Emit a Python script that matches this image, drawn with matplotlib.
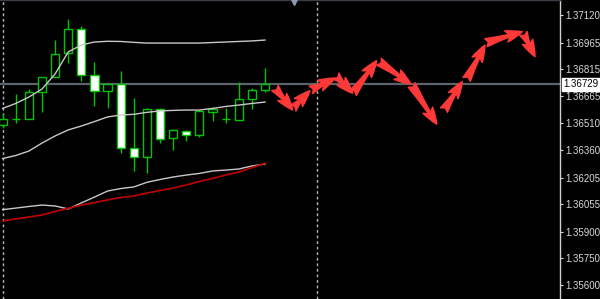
import matplotlib
matplotlib.use("Agg")
import matplotlib.pyplot as plt
from matplotlib.transforms import blended_transform_factory

# ---------------- data ----------------
opens  = [1.36501, 1.36535, 1.36535, 1.36686, 1.36771, 1.36906, 1.37041, 1.36782, 1.36692, 1.36732,
          1.36371, 1.36321, 1.36591, 1.36428, 1.36467, 1.36444, 1.36574, 1.36536, 1.36529, 1.36647, 1.36699]
highs  = [1.36568, 1.36675, 1.36703, 1.36771, 1.36979, 1.37097, 1.37058, 1.36855, 1.36737, 1.36805,
          1.36653, 1.36596, 1.36596, 1.36478, 1.36473, 1.36585, 1.36602, 1.36596, 1.36743, 1.36709, 1.36822]
lows   = [1.36484, 1.36512, 1.36535, 1.36574, 1.36771, 1.36850, 1.36748, 1.36608, 1.36596, 1.36343,
          1.36242, 1.36230, 1.36399, 1.36360, 1.36411, 1.36433, 1.36523, 1.36512, 1.36529, 1.36591, 1.36686]
closes = [1.36535, 1.36535, 1.36686, 1.36771, 1.36900, 1.37041, 1.36782, 1.36692, 1.36732, 1.36371,
          1.36321, 1.36591, 1.36422, 1.36473, 1.36444, 1.36580, 1.36591, 1.36536, 1.36647, 1.36698, 1.36729]

band_upper = [1.36594, 1.36622, 1.36658, 1.36703, 1.36788, 1.36912, 1.36951, 1.36968, 1.36972, 1.36971,
              1.36966, 1.36962, 1.36962, 1.36962, 1.36962, 1.36962, 1.36965, 1.36968, 1.36971, 1.36974, 1.36979]
band_middle = [1.36312, 1.36329, 1.36354, 1.36399, 1.36439, 1.36473, 1.36495, 1.36520, 1.36546, 1.36557,
               1.36561, 1.36572, 1.36580, 1.36583, 1.36585, 1.36585, 1.36594, 1.36605, 1.36613, 1.36622, 1.36630]
band_lower = [1.36024, 1.36033, 1.36042, 1.36050, 1.36045, 1.36028, 1.36062, 1.36095, 1.36129, 1.36143,
              1.36152, 1.36178, 1.36194, 1.36208, 1.36219, 1.36228, 1.36242, 1.36247, 1.36253, 1.36270, 1.36281]
ma_red = [1.35960, 1.35972, 1.35983, 1.35994, 1.36014, 1.36032, 1.36050, 1.36064, 1.36079, 1.36093,
          1.36101, 1.36118, 1.36132, 1.36146, 1.36163, 1.36183, 1.36200, 1.36219, 1.36236, 1.36261, 1.36285]

# forecast arrows: (tail bar, tail price) -> (head bar, head price)
arrow_tail_x = [20.76, 22.13, 23.50, 25.41, 26.71, 28.69, 31.18, 33.64, 35.37, 36.84, 39.69]
arrow_tail_y = [1.36709, 1.36596, 1.36698, 1.36777, 1.36681, 1.36857, 1.36726, 1.36585, 1.36758, 1.36964, 1.37017]
arrow_head_x = [22.11, 23.43, 25.34, 26.69, 28.51, 31.13, 33.09, 35.04, 36.77, 39.61, 40.58]
arrow_head_y = [1.36585, 1.36694, 1.36765, 1.36679, 1.36863, 1.36730, 1.36505, 1.36745, 1.36951, 1.37026, 1.36885]

separators = [0, 24]
bid_price = 1.36729
tick_prices = [1.37120, 1.36965, 1.36815, 1.36665, 1.36510, 1.36360,
               1.36205, 1.36055, 1.35900, 1.35750, 1.35600]
tick_labels = ["1.37120", "1.36965", "1.36815", "1.36665", "1.36510", "1.36360",
               "1.36205", "1.36055", "1.35900", "1.35750", "1.35600"]

# ---------------- figure ----------------
W, H = 600, 299
fig = plt.figure(figsize=(W / 100, H / 100), dpi=100, facecolor="black")
ax = fig.add_axes([0, 0, 560 / W, 1], facecolor="black")

green = "#00c400"
xs = list(range(len(opens)))

for i in xs:
    o, h, l, c = opens[i], highs[i], lows[i], closes[i]
    ax.vlines(i, l, h, color=green, lw=1.0, zorder=2)
    bull = c >= o
    ax.bar(i, abs(c - o), bottom=min(o, c), width=0.62,
           facecolor="black" if bull else "white", edgecolor=green,
           linewidth=1.0, zorder=3)

band_col = "#c8c8c8"
ax.plot(xs, band_upper, color=band_col, lw=1.0, zorder=4)
ax.plot(xs, band_middle, color=band_col, lw=1.0, zorder=4)
ax.plot(xs, band_lower, color=band_col, lw=1.0, zorder=4)
ax.plot(xs, ma_red, color="#c00000", lw=1.2, zorder=4)

for s in separators:
    ax.axvline(s, color="#b8b8b8", lw=1.0, ls=(0, (2, 2)), zorder=1)

ax.axhline(bid_price, color="#5c636c", lw=1.6, zorder=1)

for tx, ty, hx, hy in zip(arrow_tail_x, arrow_tail_y, arrow_head_x, arrow_head_y):
    ax.annotate("", xy=(hx, hy), xytext=(tx, ty),
                arrowprops=dict(arrowstyle="fancy,head_length=0.8,head_width=0.55,tail_width=0.4",
                                color="#ff3838", shrinkA=0, shrinkB=0, mutation_scale=15),
                zorder=5)

# chart-shift marker
trans = blended_transform_factory(ax.transData, ax.transAxes)
ax.plot([22.2], [0.997], marker="v", markersize=6, color="#8a9ab0",
        transform=trans, clip_on=False, zorder=6)

# axes limits (pixel-matched)
k = 0.0152 / 270
top = 1.3712 + 15 * k
ax.set_ylim(top - H * k, top)
ax.set_xlim((0 - 2.6) / 13.12, (560 - 2.6) / 13.12)

ax.set_xticks([])
ax.yaxis.tick_right()
ax.set_yticks(tick_prices)
ax.set_yticklabels(tick_labels)
ax.tick_params(axis="y", colors="#d8d8d8", length=2, width=0.8, pad=1.5,
               labelsize=7, direction="out")
for lab in ax.get_yticklabels():
    lab.set_family("Liberation Sans")

for side in ["left", "bottom"]:
    ax.spines[side].set_visible(False)
ax.spines["right"].set_color("#d0d0d0")
ax.spines["right"].set_linewidth(1.0)
ax.spines["top"].set_color("#3a3e44")
ax.spines["top"].set_linewidth(1.0)

# current price label
ax.annotate("1.36729", xy=(1, bid_price), xycoords=("axes fraction", "data"),
            xytext=(2.5, 0), textcoords="offset points", va="center", ha="left",
            fontsize=7, family="Liberation Sans", color="black",
            bbox=dict(boxstyle="square,pad=0.15", facecolor="white", edgecolor="white"),
            annotation_clip=False)

fig.savefig("out.png", dpi=100, facecolor="black")
